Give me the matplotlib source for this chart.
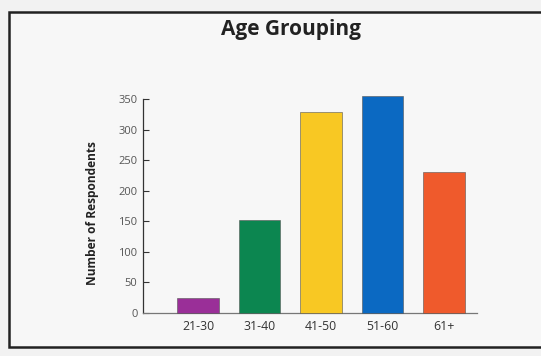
import matplotlib.pyplot as plt
from matplotlib.patches import Rectangle

categories = ["21-30", "31-40", "41-50", "51-60", "61+"]
respondents = [25, 152, 329, 355, 231]
bar_colors = ["#9a2f98", "#0c8650", "#f8c823", "#0b69c2", "#ef5a2c"]
y_ticks = [0, 50, 100, 150, 200, 250, 300, 350]

plt.rcParams['font.family'] = ['Open Sans', 'DejaVu Sans']

fig = plt.figure(figsize=(5.41, 3.56), dpi=100, facecolor="#f2f2f2")

# framing box around the chart
frame = Rectangle((9 / 541, 1 - 347 / 356), 1.0, (347 - 12) / 356,
                  transform=fig.transFigure, fill=True,
                  facecolor="#f7f7f7", edgecolor="#222222",
                  linewidth=1.8, zorder=-10)
fig.patches.append(frame)

ax = fig.add_axes([143 / 541, 1 - 313 / 356, (477 - 143) / 541, (313 - 99) / 356])
ax.set_facecolor("none")
ax.set_zorder(5)

x = range(len(categories))
ax.bar(x, respondents, width=0.675, color=bar_colors, edgecolor="#555555",
       linewidth=0.4, clip_on=False, zorder=3)

ax.set_xlim(-0.894, 4.54)
ax.set_ylim(0, 350)
ax.set_yticks(y_ticks)
ax.set_xticks(list(x))
ax.set_xticklabels(categories)

for side in ("top", "right"):
    ax.spines[side].set_visible(False)
ax.spines["left"].set_color("#333333")
ax.spines["bottom"].set_color("#777777")
ax.spines["left"].set_linewidth(0.9)
ax.spines["bottom"].set_linewidth(0.9)

ax.tick_params(axis="y", direction="in", length=4, width=0.8, color="#333333",
               labelsize=8, labelcolor="#555555", pad=4)
ax.tick_params(axis="x", length=0, labelsize=8.8, labelcolor="#333333", pad=5)

ax.set_ylabel("Number of Respondents", fontsize=8.6, fontweight="bold",
              color="#222222")
ax.yaxis.set_label_coords(-0.132, 0.467)

fig.text(291 / 541, 1 - 30 / 356, "Age Grouping", ha="center", va="center",
         fontsize=15, fontweight="bold", color="#222222", zorder=6)

fig.savefig("out.png", dpi=100, facecolor=fig.get_facecolor())
